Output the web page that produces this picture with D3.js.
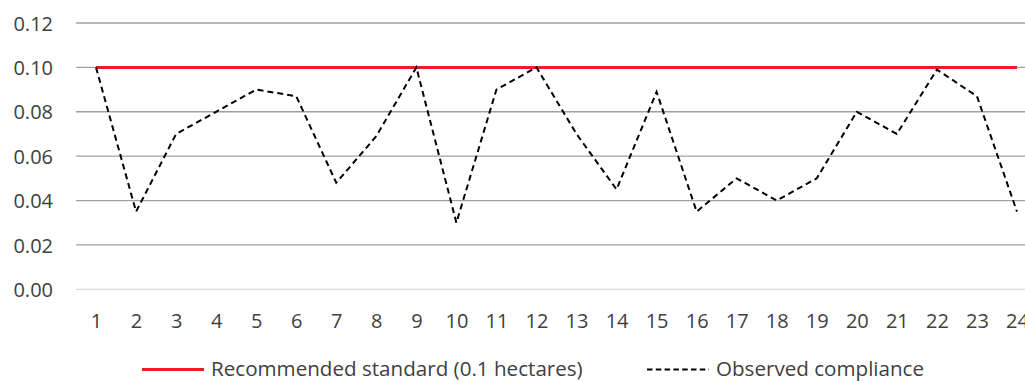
<!DOCTYPE html>
<html>
<head>
<meta charset="utf-8">
<script src="https://cdn.jsdelivr.net/npm/d3@7"></script>
<style>
  body { margin: 0; background: #fff; }
  svg { display: block; }
  text { font-family: "Open Sans", "Liberation Sans", Arial, sans-serif; fill: #404040; }
</style>
</head>
<body>
<svg id="chart" width="1025" height="381"></svg>
<script>
var categories = d3.range(1, 25).map(String);
var standard = [0.10, 0.10, 0.10, 0.10, 0.10, 0.10, 0.10, 0.10, 0.10, 0.10, 0.10, 0.10,
                0.10, 0.10, 0.10, 0.10, 0.10, 0.10, 0.10, 0.10, 0.10, 0.10, 0.10, 0.10];
var observed = [0.100, 0.035, 0.070, 0.080, 0.090, 0.087, 0.048, 0.069, 0.100, 0.030, 0.090, 0.100,
                0.070, 0.045, 0.089, 0.035, 0.050, 0.040, 0.050, 0.080, 0.070, 0.099, 0.087, 0.035];
var yTicks = [0, 0.02, 0.04, 0.06, 0.08, 0.10, 0.12];
var seriesNames = ["Recommended standard (0.1 hectares)", "Observed compliance"];

var svg = d3.select("#chart");

var x = d3.scalePoint()
    .domain(categories)
    .range([76, 1037])
    .padding(0.5);

var y = d3.scaleLinear()
    .domain([0, 0.12])
    .range([289.3, 23]);

// grid
svg.append("g")
    .selectAll("line")
    .data(yTicks)
    .enter()
    .append("line")
    .attr("x1", 76)
    .attr("x2", 1025)
    .attr("y1", function(d) { return y(d); })
    .attr("y2", function(d) { return y(d); })
    .attr("stroke", function(d) { return d === 0 ? "#d9d9d9" : "#a0a0a0"; })
    .attr("stroke-width", 1.3);

// y axis
var yAxis = d3.axisLeft(y)
    .tickValues(yTicks)
    .tickFormat(d3.format(".2f"))
    .tickSize(0)
    .tickPadding(0);
var gy = svg.append("g")
    .attr("transform", "translate(53,0)")
    .call(yAxis);
gy.select(".domain").remove();
gy.selectAll("text")
    .style("font-size", "20px")
    .style("font-family", "'Open Sans', sans-serif")
    .attr("fill", "#404040")
    .attr("dy", "0.36em");

// x axis
var xAxis = d3.axisBottom(x).tickSize(0).tickPadding(0);
var gx = svg.append("g")
    .attr("transform", "translate(0,314)")
    .call(xAxis);
gx.select(".domain").remove();
gx.selectAll("text")
    .style("font-size", "20px")
    .style("font-family", "'Open Sans', sans-serif")
    .attr("fill", "#404040");

var line = d3.line()
    .x(function(d, i) { return x(categories[i]); })
    .y(function(d) { return y(d); });

svg.append("path")
    .datum(standard)
    .attr("d", line)
    .attr("fill", "none")
    .attr("stroke", "#ee1c25")
    .attr("stroke-width", 3);

svg.append("path")
    .datum(observed)
    .attr("d", line)
    .attr("fill", "none")
    .attr("stroke", "#000")
    .attr("stroke-width", 2)
    .attr("stroke-dasharray", "6,4");

// legend
var legend = svg.append("g");
legend.append("line")
    .attr("x1", 142).attr("x2", 204)
    .attr("y1", 369.5).attr("y2", 369.5)
    .attr("stroke", "#ee1c25")
    .attr("stroke-width", 3);
legend.append("text")
    .attr("x", 211).attr("y", 375.5)
    .style("font-size", "20.6px")
    .text(seriesNames[0]);
legend.append("line")
    .attr("x1", 647).attr("x2", 709)
    .attr("y1", 369.5).attr("y2", 369.5)
    .attr("stroke", "#000")
    .attr("stroke-width", 2.2)
    .attr("stroke-dasharray", "5.5,3.3");
legend.append("text")
    .attr("x", 716).attr("y", 375.5)
    .style("font-size", "20.6px")
    .text(seriesNames[1]);
</script>
</body>
</html>
